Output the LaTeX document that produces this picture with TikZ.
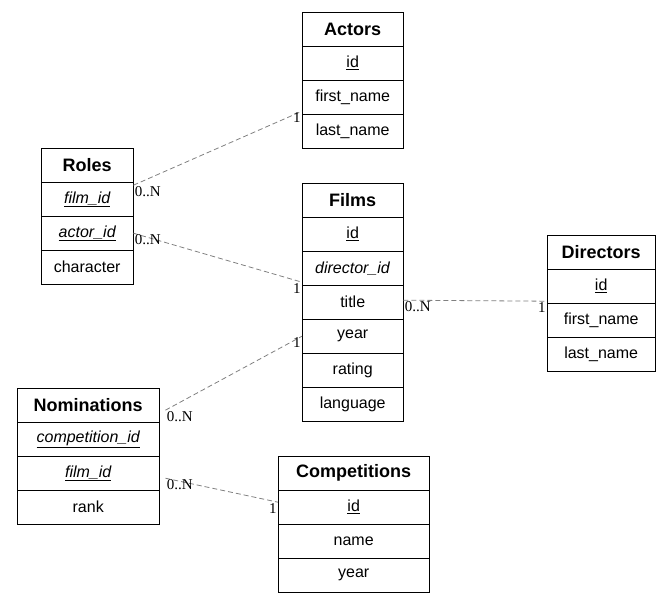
\documentclass[tikz,border=0pt]{standalone}
\usepackage{fontspec}
\setmainfont{Liberation Serif}
\newfontfamily\tblfont{Liberation Sans}
\usepackage{tikz}
\newcommand{\rowHeight}[0]{34}
\newcommand{\linkColor}[0]{gray}
% one entity box: name, x, y, width, header, rows
\newcommand{\entity}[6]{
  \node[head, minimum width=#4pt] (#1) at (#2,#3) {#5};
  \foreach \txt [count=\i] in {#6} {
    \node[cell, minimum width=#4pt] (#1-\i) at (#2,#3+\i*\rowHeight) {\txt};
  }
}
\begin{document}
\begin{tikzpicture}[x=1pt, y=-1pt]
  \tikzset{head/.style={draw, anchor=north west, minimum height=\rowHeight pt,
      inner sep=0pt, font=\tblfont\fontsize{18}{20}\selectfont\bfseries},
    cell/.style={draw, anchor=north west, minimum height=\rowHeight pt,
      inner xsep=6pt, inner ysep=0pt, text width=#1, font=\tblfont\fontsize{16}{18}\selectfont},
    cell/.default={},
    link/.style={draw=\linkColor, dashed, dash pattern=on 5pt off 3pt, thick},
    card/.style={font=\fontsize{15}{17}\selectfont, inner sep=1pt}}
  \useasboundingbox (0,0) rectangle (671,604);
  \entity{actors}{302}{12}{101}{Actors}{\underline{id}, first\_name, last\_name}
  \entity{roles}{41}{148}{92}{Roles}{\textit{\underline{film\_id}}, \textit{\underline{actor\_id}}, character}
  \entity{films}{302}{183}{101}{Films}{\underline{id}, \textit{director\_id}, title, year, rating, language}
  \entity{directors}{547}{235}{108}{Directors}{\underline{id}, first\_name, last\_name}
  \entity{nominations}{17}{388}{142}{Nominations}{\textit{\underline{competition\_id}}, \textit{\underline{film\_id}}, rank}
  \entity{competitions}{278}{456}{151}{Competitions}{\underline{id}, name, year}
  \path[link] ([yshift=14pt]roles-1.east) -- ([yshift=-14pt]actors-2.west)
    node[card, at start, below right] {0..N} node[card, at end, below left] {1};
  \path[link] (roles-2.east) -- ([yshift=20pt]films-3.west)
    node[card, at start, below right] {0..N} node[card, at end, below left] {1};
  \path[link] ([yshift=2pt]films-3.east) -- ([yshift=-15pt]directors-1.west)
    node[card, at start, below right] {0..N} node[card, at end, below left] {1};
  \path[link] ([xshift=6pt, yshift=-5pt]nominations.east) -- (films-4.west)
    node[card, at start, below right] {0..N} node[card, at end, below left] {1};
  \path[link] ([xshift=6pt, yshift=-5pt]nominations-2.east) -- ([yshift=5pt]competitions-1.west)
    node[card, at start, below right] {0..N} node[card, at end, below left] {1};
\end{tikzpicture}
\end{document}
